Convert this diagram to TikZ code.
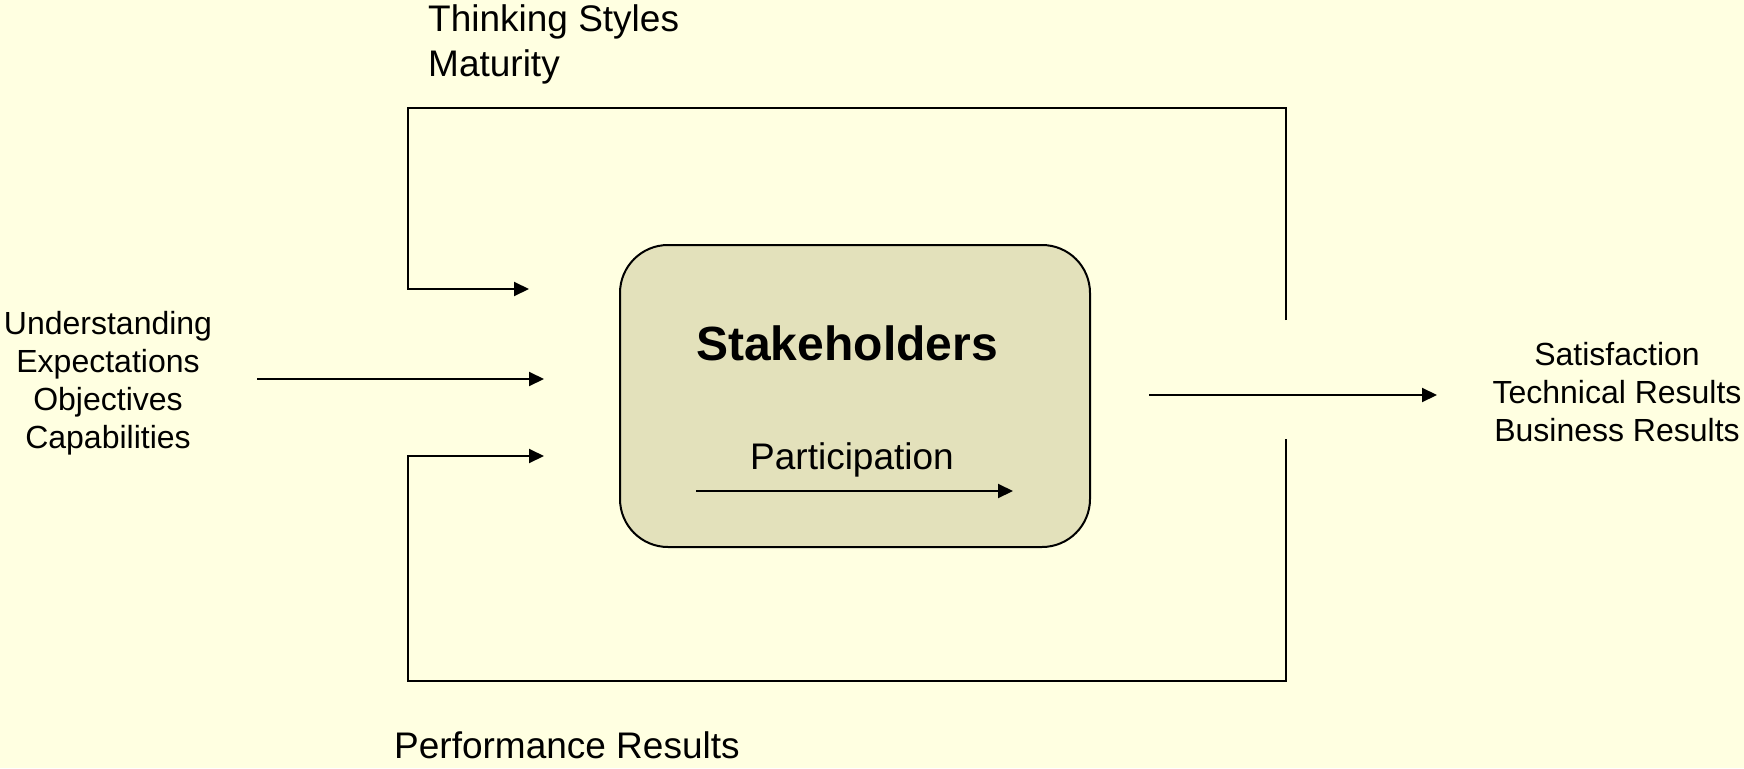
\documentclass[tikz,border=0pt]{standalone}
\usepackage{fontspec}
\setmainfont{Liberation Sans}
\usetikzlibrary{arrows.meta}
\definecolor{bgyellow}{HTML}{FFFFE1}
\definecolor{boxfill}{HTML}{E3E1BB}
\tikzset{
  line/.style={line width=2pt, draw=black},
  arr/.style={line, -{Triangle[length=15pt,width=14pt]}},
  big/.style={font=\fontsize{37}{43}\selectfont, inner sep=0pt, anchor=base west},
  side/.style={font=\fontsize{32}{38}\selectfont, inner sep=0pt, anchor=base},
}
\begin{document}
\begin{tikzpicture}[x=1pt,y=-1pt]
\fill[bgyellow] (0,0) rectangle (1744,768);
\useasboundingbox (0,0) rectangle (1744,768);

% central box
\node[line, fill=boxfill, rounded corners=48pt, minimum width=470pt, minimum height=302pt, inner sep=0pt] (box) at (855,396) {};
\node[font=\bfseries\fontsize{48}{53}\selectfont, inner sep=0pt, anchor=base] (stake) at (847,360) {Stakeholders};
\node[font=\fontsize{37}{42}\selectfont, inner sep=0pt, anchor=base] (part) at (852,469) {Participation};
\coordinate (p1) at (696,491);
\coordinate (p2) at (1013,491);
\draw[arr] (p1) -- (p2);

% frame
\coordinate (trg) at (1286,320);
\coordinate (tr) at (1286,108);
\coordinate (tl) at (408,108);
\coordinate (lt) at (408,289);
\coordinate (ta) at (529,289);
\draw[arr] (trg) -- (tr) -- (tl) -- (lt) -- (ta);

\coordinate (brg) at (1286,439);
\coordinate (br) at (1286,681);
\coordinate (bl) at (408,681);
\coordinate (lb) at (408,456);
\coordinate (ba) at (544,456);
\draw[arr] (brg) -- (br) -- (bl) -- (lb) -- (ba);

% input arrow
\coordinate (ms) at (257,379);
\coordinate (me) at (544,379);
\draw[arr] (ms) -- (me);

% output arrow
\coordinate (os) at (1149,395);
\coordinate (oe) at (1437,395);
\draw[arr] (os) -- (oe);

% labels
\node[big] (ts) at (428,32) {Thinking Styles};
\node[big] (mat) at (428,76) {Maturity};
\node[big] (perf) at (394,758) {Performance Results};

\node[side] (in1) at (108,334) {Understanding};
\node[side] (in2) at (108,372) {Expectations};
\node[side] (in3) at (108,410) {Objectives};
\node[side] (in4) at (108,448) {Capabilities};

\node[side] (out1) at (1617,365) {Satisfaction};
\node[side] (out2) at (1617,403) {Technical Results};
\node[side] (out3) at (1617,441) {Business Results};
\end{tikzpicture}
\end{document}
